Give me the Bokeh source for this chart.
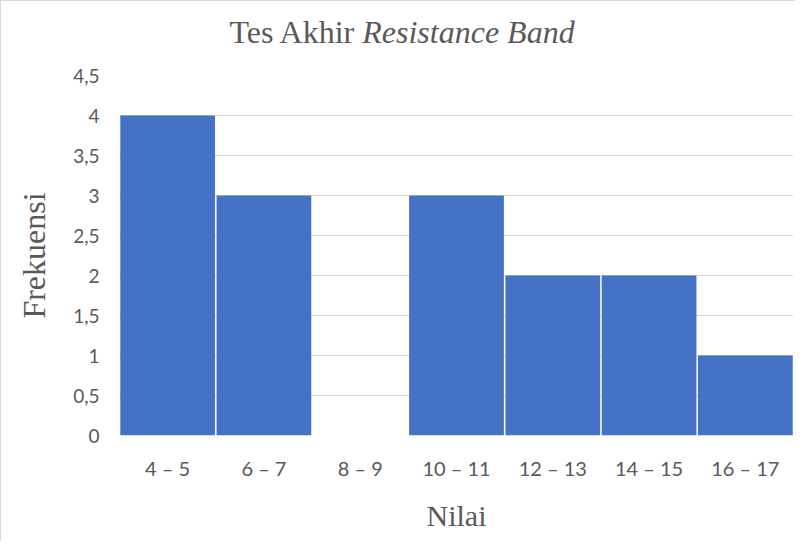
from bokeh.plotting import figure
from bokeh.layouts import column
from bokeh.models import Div, Range1d, FixedTicker, CustomJSTickFormatter
from bokeh.embed import file_html
from bokeh.resources import INLINE

categories = ["4 – 5", "6 – 7", "8 – 9", "10 – 11", "12 – 13", "14 – 15", "16 – 17"]
frequencies = [4, 3, 0, 3, 2, 2, 1]
y_ticks = [0, 0.5, 1, 1.5, 2, 2.5, 3, 3.5, 4, 4.5]
title_plain = "Tes Akhir"
title_italic = "Resistance Band"

GRAY = "#595959"
SERIF = "Liberation Serif"
SANS = "Lato"
W = 794
TITLE_H = 62

title = Div(
    text=(f'<div style="width:{W}px;height:{TITLE_H}px;box-sizing:border-box;'
          f'padding-top:17px;padding-left:8px;text-align:center;'
          f'font-family:&quot;Liberation Serif&quot;,&quot;Times New Roman&quot;,serif;'
          f'font-size:32px;line-height:29px;color:{GRAY};">'
          f'{title_plain} <i>{title_italic}</i></div>'),
    width=W, height=TITLE_H, margin=0)

p = figure(x_range=categories, y_range=Range1d(0, 4.5), width=W, height=540 - TITLE_H,
           output_backend="svg", toolbar_location=None, margin=0,
           min_border_left=118, min_border_right=2, min_border_top=12, min_border_bottom=106)
p.x_range.range_padding = 0
p.outline_line_color = None

p.vbar(x=categories, top=frequencies, width=0.984, fill_color="#4472C4", line_color=None)

p.xgrid.grid_line_color = None
p.ygrid.grid_line_color = "#D9D9D9"
p.ygrid.grid_line_width = 1

p.yaxis.ticker = FixedTicker(ticks=y_ticks)
p.yaxis.formatter = CustomJSTickFormatter(code="return String(tick).replace('.', ',');")
for ax in (p.xaxis[0], p.yaxis[0]):
    ax.axis_line_color = None
    ax.major_tick_line_color = None
    ax.minor_tick_line_color = None
    ax.major_label_text_font = SANS
    ax.major_label_text_color = GRAY
    ax.axis_label_text_font = SERIF
    ax.axis_label_text_font_style = "normal"
    ax.axis_label_text_color = GRAY

p.yaxis.major_label_text_font_size = "19px"
p.xaxis.major_label_text_font_size = "20px"
p.yaxis.major_label_standoff = 14
p.yaxis.axis_label = "Frekuensi"
p.yaxis.axis_label_text_font_size = "32px"
p.yaxis.axis_label_standoff = 18
p.xaxis.major_label_standoff = 14
p.xaxis.axis_label = "Nilai"
p.xaxis.axis_label_text_font_size = "30px"
p.xaxis.axis_label_standoff = 16

layout = column(title, p, spacing=0, margin=0,
                styles={"border-top": "1px solid #d9d9d9", "border-left": "1px solid #d9d9d9"})
open("out.html", "w").write(file_html(layout, INLINE))
